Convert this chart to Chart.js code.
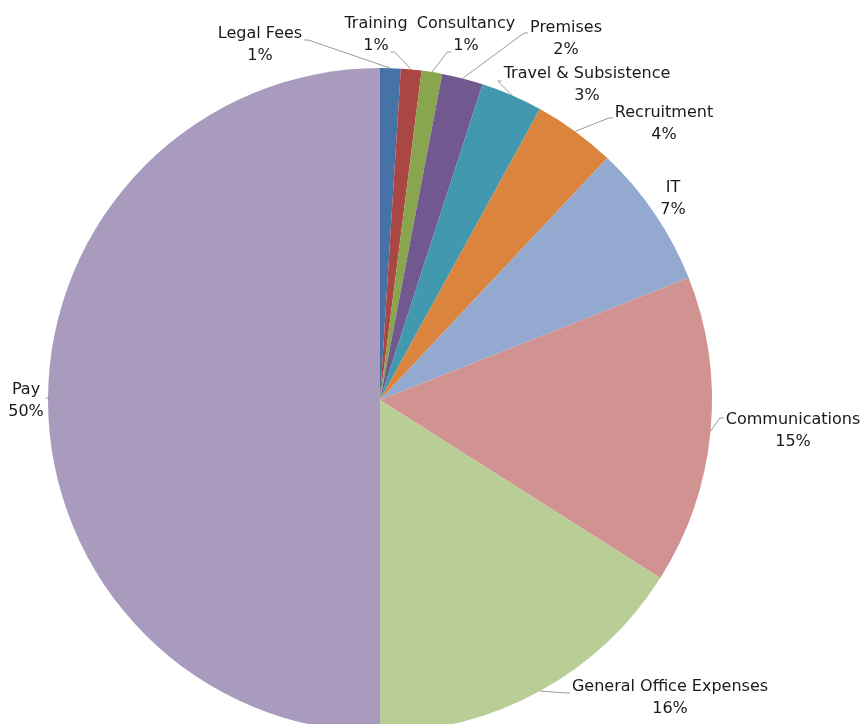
<!DOCTYPE html>
<html>
<head>
<meta charset="utf-8">
<script src="https://cdn.jsdelivr.net/npm/chart.js@4"></script>
<style>
  html, body { margin: 0; padding: 0; background: #fff; overflow: hidden; }
  #wrap { position: relative; width: 864px; height: 800px; }
</style>
</head>
<body>
<div id="wrap"><canvas id="pie"></canvas></div>
<script>
const categories = [
  'Legal Fees',
  'Training',
  'Consultancy',
  'Premises',
  'Travel & Subsistence',
  'Recruitment',
  'IT',
  'Communications',
  'General Office Expenses',
  'Pay'
];
const spend = [1, 1, 1, 2, 3, 4, 7, 15, 16, 50];
const sliceColours = [
  '#4572A7', '#AA4643', '#89A54E', '#71588F', '#4198AF',
  '#DB843D', '#93A9CF', '#D19392', '#B9CD96', '#A99BBD'
];

// label block centre relative to the pie centre, which text row the leader leaves from
const labelPlaces = [
  { dx: -120, dy: -355, side: 'right', row: 0, ay: -5 },
  { dx: -4,   dy: -365, side: 'right', row: 1, ay: 17 },
  { dx: 86,   dy: -365, side: 'left',  row: 1, ay: 17 },
  { dx: 186,  dy: -361, side: 'left',  row: 0, ay: -6 },
  { dx: 207,  dy: -315, side: 'left',  row: 0, ay: -4 },
  { dx: 284,  dy: -276, side: 'left',  row: 0, ay: -6 },
  { dx: 293,  dy: -201, side: null },
  { dx: 413,  dy: 31,   side: 'left',  row: 0, ay: -13 },
  { dx: 290,  dy: 298,  side: 'left',  row: 0, ay: -5 },
  { dx: -354, dy: 1,    side: 'right', row: 1, ay: -3 }
];

const outsideLabels = {
  id: 'outsideLabels',
  afterDatasetsDraw(chart) {
    const ctx = chart.ctx;
    const arcs = chart.getDatasetMeta(0).data;
    const total = spend.reduce((a, b) => a + b, 0);
    ctx.save();
    ctx.font = '16px "DejaVu Sans"';
    ctx.textAlign = 'center';
    ctx.textBaseline = 'middle';
    arcs.forEach((arc, i) => {
      const p = arc.getProps(['x', 'y', 'startAngle', 'endAngle', 'outerRadius'], true);
      const mid = (p.startAngle + p.endAngle) / 2;
      const ax = p.x + Math.cos(mid) * p.outerRadius;
      const ay = p.y + Math.sin(mid) * p.outerRadius;
      const place = labelPlaces[i];
      const cx = p.x + place.dx, cy = p.y + place.dy;
      const lines = [categories[i], Math.round(spend[i] / total * 100) + '%'];

      if (place.side) {
        const w = ctx.measureText(lines[place.row]).width;
        const ly = cy + place.ay;
        const ex = place.side === 'right' ? cx + w / 2 + 2 : cx - w / 2 - 2;
        const stub = place.side === 'right' ? 4 : -4;
        ctx.strokeStyle = '#9a9a9a';
        ctx.lineWidth = 1;
        ctx.beginPath();
        ctx.moveTo(ex, ly);
        ctx.lineTo(ex + stub, ly);
        ctx.lineTo(ax, ay);
        ctx.stroke();
      }

      ctx.fillStyle = '#1a1a1a';
      ctx.fillText(lines[0], cx, cy - 11);
      ctx.fillText(lines[1], cx, cy + 11);
    });
    ctx.restore();
  }
};

new Chart(document.getElementById('pie'), {
  type: 'pie',
  data: {
    labels: categories,
    datasets: [{
      data: spend,
      backgroundColor: sliceColours,
      borderWidth: 0
    }]
  },
  options: {
    responsive: true,
    maintainAspectRatio: false,
    animation: false,
    layout: { padding: { left: 48, right: 152, top: 68, bottom: 68 } },
    plugins: {
      legend: { display: false },
      tooltip: { enabled: false }
    }
  },
  plugins: [outsideLabels]
});
</script>
</body>
</html>
